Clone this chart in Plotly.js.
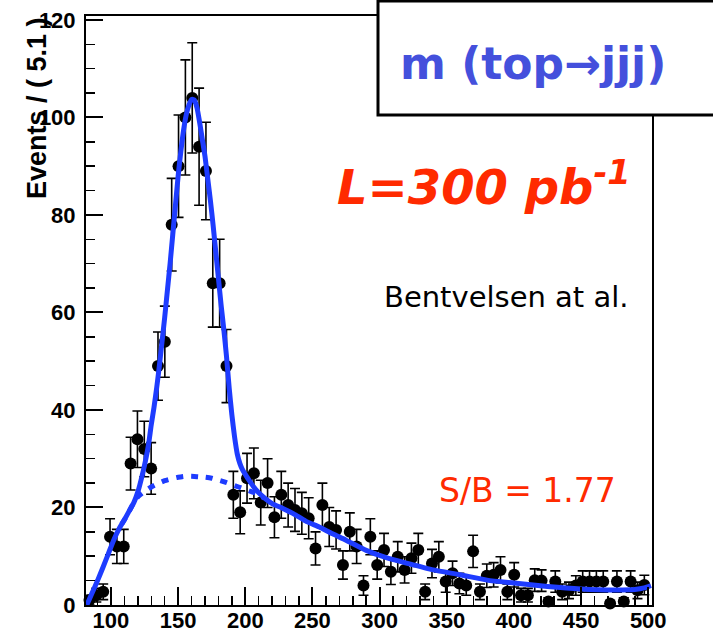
<!DOCTYPE html>
<html><head><meta charset="utf-8">
<script src="https://cdn.plot.ly/plotly-3.0.1.min.js"></script>
<style>html,body{margin:0;padding:0;background:#fff;overflow:hidden}</style>
</head><body><div id="chart" style="width:713px;height:634px"></div>
<script>
// ---- data ----
const massBins = [84.0,89.1,94.2,99.3,104.4,109.5,114.6,119.7,124.8,129.9,135.0,140.1,145.2,150.3,155.4,160.5,165.6,170.7,175.8,180.9,186.0,191.1,196.2,201.3,206.4,211.5,216.6,221.7,226.8,231.9,237.0,242.1,247.2,252.3,257.4,262.5,267.6,272.7,277.8,282.9,288.0,293.1,298.2,303.3,308.4,313.5,318.6,323.7,328.8,333.9,339.0,344.1,349.2,354.3,359.4,364.5,369.6,374.7,379.8,384.9,390.0,395.1,400.2,405.3,410.4,415.5,420.6,425.7,430.8,435.9,441.0,446.1,451.2,456.3,461.4,466.5,471.6,476.7,481.8,486.9,492.0,497.1];
const events = [1.0,2.0,2.7,14,12,12,29,34,32,28,49,54,78,90,100,104,94,89,66,66,49,22.6,19,26,27,21,25,18,22.6,20.5,19.5,18.8,17.8,11.6,20.5,16,15.4,8.2,15,12,4,14,8.2,11.3,6.8,9.9,7.2,9.6,11.3,2.7,8.5,9.9,4.8,6.5,4.4,4,11,2.7,6,6.2,7.2,2.7,6.2,2,2,5.1,5,0.7,4.8,2.7,3,4,4.8,4.8,4.8,4.8,0.3,4.8,0.7,4.8,3,4.1];
const eventErrors = [1.0,1.4,1.6,3.7,3.5,3.5,5.4,5.8,5.7,5.3,7.0,7.3,9.5,10.5,11.8,11.3,12,10,9,9,7.5,4.8,4.4,5.1,5.2,4.6,5.0,4.2,4.8,4.5,4.4,4.3,4.2,3.4,4.5,4.0,3.9,2.9,3.9,3.5,2.0,3.7,2.9,3.4,2.6,3.1,2.7,3.1,3.4,1.6,2.9,3.1,2.2,2.5,2.1,2.0,3.3,1.6,2.4,2.5,2.7,1.6,2.5,1.4,1.4,2.3,2.2,0.8,2.2,1.6,1.7,2.0,2.2,2.2,2.2,2.2,0.5,2.2,0.8,2.2,1.7,2.0];

const fitMass = [82,86,90,94,98,102,106,110,114,117,120,123,126,128,130,132,134,136,138,140,142,144,146,148,150,152,154,156,158,160,162,164,166,168,170,172,174,176,178,180,182,184,186,188,190,192,194,196,198,200,203,206,210,215,220,228,236,245,255,265,275,290,305,320,340,360,380,400,425,450,475,490,497,502];
const fitTotal = [0,2.5,5,7.7,10.5,13.3,15.6,17.5,19.5,21,23.2,26.3,30,33,37,40.5,44.5,49,54,59,64.5,70,76,82,88,93,97.3,100.5,102.5,103.7,103.6,102,99,95.5,92,87.5,83,78,72.5,67,61.5,56.5,51,44.5,39,34.5,31,29,27.7,26.8,25.5,24.3,23,21.8,20.8,19.8,18.7,17.2,16,14.6,13.3,11.2,9.7,8.6,7.2,6.2,5.1,4.5,3.8,3.3,3.1,3.2,3.5,4];

const bkgMass = [108,112,116,120,125,130,135,140,145,150,155,160,165,170,175,180,185,190,195,200,205,210,214];
const bkgFit = [16.6,18.4,20.5,22.2,23.3,24.2,24.9,25.5,25.9,26.2,26.4,26.4,26.3,26.2,26,25.6,25.2,24.7,24.2,23.7,23.2,22.7,21.9];

const yTitle = 'Events / ( 5.1 )';
const boxLabel = 'm (top\u2192jjj)';
const lumiLabel = 'L=300 pb<sup>-1</sup>';
const authorLabel = 'Bentvelsen at al.';
const sbLabel = 'S/B = 1.77';

// ---- geometry ----
const W = 713, H = 634, ML = 86, MR = 61, MT = 16, MB = 29;
const PW = W - ML - MR, PH = H - MT - MB;
const px = x => (x - ML) / PW;
const py = y => (H - MB - y) / PH;

const blue = '#1e3cff';
const red = '#ff2a00';

const traces = [
  {
    x: massBins, y: events, type: 'scatter', mode: 'markers',
    marker: {color: 'black', size: 12, symbol: 'circle'},
    error_y: {type: 'data', array: eventErrors, visible: true, color: 'black', thickness: 1.6, width: 5},
    cliponaxis: false, hoverinfo: 'skip'
  },
  {
    x: bkgMass, y: bkgFit, type: 'scatter', mode: 'lines',
    line: {color: blue, width: 5, dash: '7px,8px', shape: 'spline', smoothing: 0.6},
    hoverinfo: 'skip'
  },
  {
    x: fitMass, y: fitTotal, type: 'scatter', mode: 'lines',
    line: {color: blue, width: 5, shape: 'spline', smoothing: 0.6},
    hoverinfo: 'skip'
  }
];

const tickFont = {family: 'Liberation Sans, Arial, sans-serif', size: 22, color: 'black', weight: 'bold'};

const layout = {
  width: W, height: H,
  margin: {l: ML, r: MR, t: MT, b: MB, pad: 0},
  paper_bgcolor: 'white', plot_bgcolor: 'white',
  showlegend: false,
  xaxis: {
    range: [81.4, 502.8], showgrid: false, zeroline: false,
    showline: true, linecolor: 'black', linewidth: 2, mirror: true,
    ticks: 'inside', ticklen: 18, tickwidth: 2, tickcolor: 'black',
    tick0: 0, dtick: 50,
    minor: {ticks: 'inside', dtick: 10, ticklen: 9, tickwidth: 1.5, tickcolor: 'black', showgrid: false},
    tickfont: tickFont, ticklabelstandoff: -5
  },
  yaxis: {
    range: [0, 120.8], showgrid: false, zeroline: false,
    showline: true, linecolor: 'black', linewidth: 2, mirror: true,
    ticks: 'inside', ticklen: 17, tickwidth: 2, tickcolor: 'black',
    tick0: 0, dtick: 20,
    minor: {ticks: 'inside', dtick: 5, ticklen: 9, tickwidth: 1.5, tickcolor: 'black', showgrid: false},
    tickfont: tickFont, ticklabelstandoff: 4
  },
  shapes: [
    {type: 'rect', xref: 'paper', yref: 'paper', layer: 'above',
     x0: px(378), x1: px(740), y0: py(115), y1: py(1),
     fillcolor: 'white', line: {color: 'black', width: 3}}
  ],
  annotations: [
    {text: boxLabel, xref: 'paper', yref: 'paper', x: px(398), y: py(64),
     xanchor: 'left', yanchor: 'middle', showarrow: false,
     font: {family: 'DejaVu Sans', size: 44, color: '#4450dc', weight: 'bold'}},
    {text: lumiLabel, xref: 'paper', yref: 'paper', x: px(335), y: py(184),
     xanchor: 'left', yanchor: 'middle', showarrow: false,
     font: {family: 'DejaVu Sans', size: 48, color: red, weight: 'bold', style: 'italic'}},
    {text: authorLabel, xref: 'paper', yref: 'paper', x: px(382), y: py(297),
     xanchor: 'left', yanchor: 'middle', showarrow: false,
     font: {family: 'DejaVu Sans', size: 29, color: 'black'}},
    {text: sbLabel, xref: 'paper', yref: 'paper', x: px(437), y: py(490),
     xanchor: 'left', yanchor: 'middle', showarrow: false,
     font: {family: 'DejaVu Sans', size: 33, color: red}},
    {text: yTitle, xref: 'paper', yref: 'paper', x: px(37), y: py(201),
     xanchor: 'center', yanchor: 'bottom', textangle: -90, showarrow: false,
     font: {family: 'Liberation Sans, Arial, sans-serif', size: 27, color: 'black', weight: 'bold'}}
  ]
};

Plotly.newPlot('chart', traces, layout, {displayModeBar: false, staticPlot: true});
</script>
</body></html>
